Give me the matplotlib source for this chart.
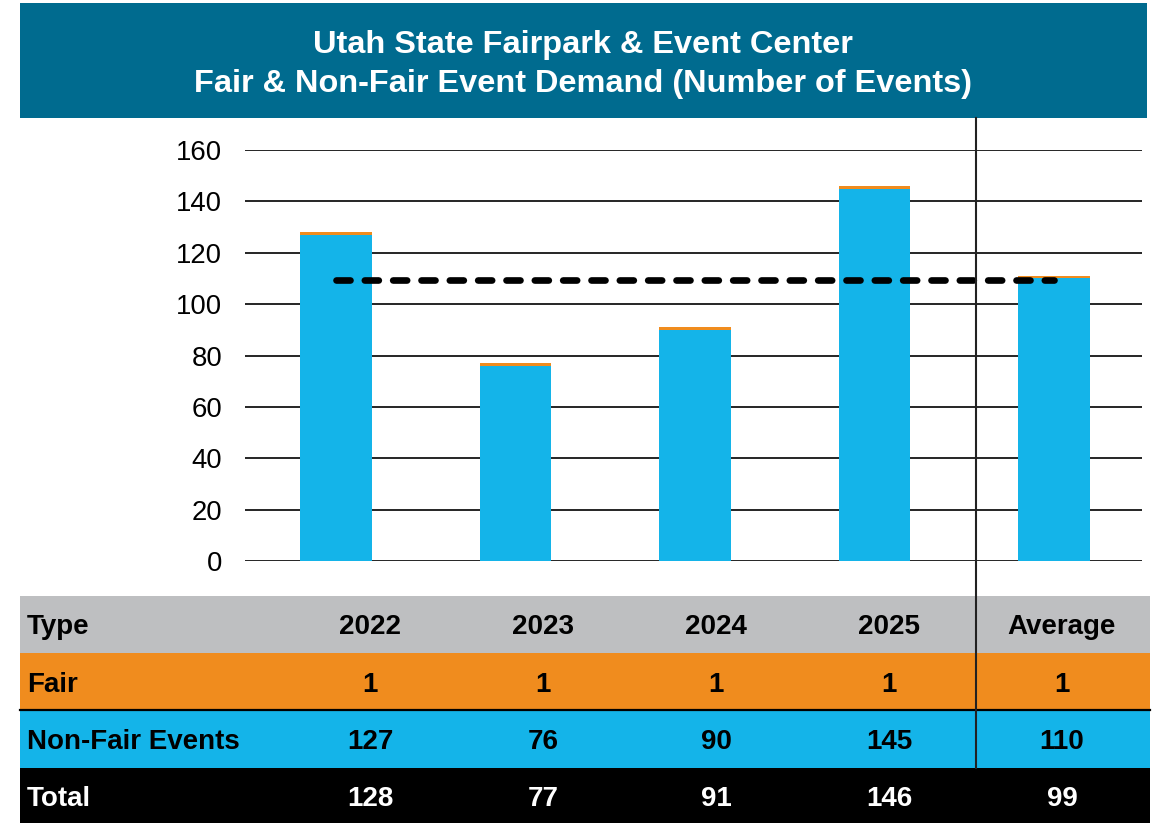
import matplotlib
matplotlib.use("Agg")
import matplotlib.pyplot as plt
from matplotlib.patches import Rectangle
from matplotlib.lines import Line2D

plt.rcParams['font.family'] = ['Liberation Sans', 'DejaVu Sans']

# ---- data ----
title_lines = ["Utah State Fairpark & Event Center",
               "Fair & Non-Fair Event Demand (Number of Events)"]
categories = ['2022', '2023', '2024', '2025', 'Average']
fair = [1, 1, 1, 1, 1]
non_fair = [127, 76, 90, 145, 110]
total = [128, 77, 91, 146, 99]
avg_line_value = 109.5
y_ticks = [0, 20, 40, 60, 80, 100, 120, 140, 160]
row_labels = ['Type', 'Fair', 'Non-Fair Events', 'Total']

# ---- colours ----
TEAL = '#006B8F'
ORANGE = '#F08C1E'
BLUE = '#14B4E9'
GRAY = '#BEBFC1'

W, H = 1163, 823
fig = plt.figure(figsize=(W / 100, H / 100), dpi=100)

def fx(x):
    return x / W

def fy(y):
    return 1 - y / H

# ---- title banner ----
fig.patches.append(Rectangle((fx(20), fy(118)), fx(1147) - fx(20), fy(3) - fy(118),
                             transform=fig.transFigure, facecolor=TEAL, edgecolor='none', zorder=0))
fig.text(fx(583), fy(45), title_lines[0], color='white', fontsize=23.4, fontweight='bold',
         ha='center', va='center')
fig.text(fx(583), fy(84), title_lines[1], color='white', fontsize=23.4, fontweight='bold',
         ha='center', va='center')

# ---- chart ----
ax = fig.add_axes([fx(245), fy(561), fx(1142) - fx(245), fy(150) - fy(561)])
x = list(range(len(categories)))
ax.bar(x, non_fair, width=0.40, color=BLUE, zorder=2)
ax.bar(x, fair, bottom=non_fair, width=0.40, color=ORANGE, zorder=2)
ax.plot([x[0], x[-1]], [avg_line_value, avg_line_value], color='black', lw=4.8,
        linestyle=(0, (2.1, 2.15)), dash_capstyle='round', zorder=3)
ax.set_ylim(0, 160)
ax.set_xlim(-0.507, 4.49)
ax.set_yticks(y_ticks)
ax.set_yticklabels([str(v) for v in y_ticks], fontsize=19.8)
ax.yaxis.grid(True, color='black', lw=1.2, zorder=1)
ax.set_axisbelow(True)
ax.tick_params(axis='y', length=0, pad=16.5)
ax.set_xticks([])
for s in ax.spines.values():
    s.set_visible(False)
ax.patch.set_alpha(0)

# ---- table ----
row_bounds = [(596, 653, GRAY), (653, 710, ORANGE), (710, 768, BLUE), (768, 823, 'black')]
for top, bot, col in row_bounds:
    fig.patches.append(Rectangle((fx(20), fy(bot)), fx(1150) - fx(20), fy(top) - fy(bot),
                                 transform=fig.transFigure, facecolor=col, edgecolor='none', zorder=0))
# separator line between Fair and Non-Fair rows
fig.lines.append(Line2D([fx(20), fx(1150)], [fy(710), fy(710)], transform=fig.transFigure,
                        color='black', lw=1.6, zorder=2))
# vertical separator line
fig.lines.append(Line2D([fx(976), fx(976)], [fy(118), fy(768)], transform=fig.transFigure,
                        color='#222222', lw=1.5, zorder=5))

col_centers = [370 + 173 * i for i in range(len(categories))]
row_values = [categories, fair, non_fair, total]
for r, ((top, bot, col), label, vals) in enumerate(zip(row_bounds, row_labels, row_values)):
    yc = (top + bot) / 2 + 3
    tcol = 'white' if r == 3 else 'black'
    fig.text(fx(27), fy(yc), label, color=tcol, fontsize=20, fontweight='bold',
             ha='left', va='center')
    for cx, v in zip(col_centers, vals):
        fig.text(fx(cx), fy(yc), str(v), color=tcol, fontsize=20, fontweight='bold',
                 ha='center', va='center')

fig.savefig('out.png', dpi=100, facecolor='white')
